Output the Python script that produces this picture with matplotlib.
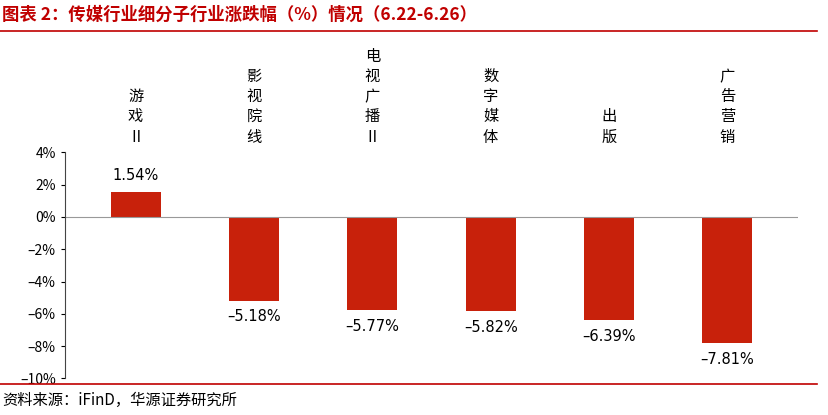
import matplotlib.pyplot as plt
from matplotlib.ticker import FuncFormatter

plt.rcParams['font.family'] = ['Noto Sans CJK SC', 'DejaVu Sans']

categories = ["游戏\nⅡ", "影视\n院线", "电视\n广播\nⅡ", "数字\n媒体", "出版", "广告\n营销"]
changes = [1.54, -5.18, -5.77, -5.82, -6.39, -7.81]
labels = ["1.54%", "–5.18%", "–5.77%", "–5.82%", "–6.39%", "–7.81%"]

RED = "#c00000"
BAR = "#c8210b"

fig = plt.figure(figsize=(8.29, 4.15), dpi=100)
ax = fig.add_axes([0.078, 0.088, 0.885, 0.545])

x = range(len(categories))
ax.bar(x, changes, width=0.42, color=BAR)
for xi, v, lab in zip(x, changes, labels):
    off = 1.0 if v > 0 else -1.0
    ax.text(xi, v + off, lab, ha="center", va="center", fontsize=10.5,
            family=["DejaVu Sans"])
    # vertical category label above plot
    chars = "\n".join(c for c in categories[xi].replace("\n", ""))
    ax.text(xi, 1.03, chars, transform=ax.get_xaxis_transform(), ha="center",
            va="bottom", fontsize=11, linespacing=1.25)

ax.set_ylim(-10, 4)
ax.set_yticks(range(-10, 5, 2))
ax.yaxis.set_major_formatter(FuncFormatter(lambda v, p: f"{int(v)}%".replace("-", "–")))
ax.set_xlim(-0.6, 5.6)
ax.set_xticks([])
ax.axhline(0, color="#999999", lw=0.8)
for s in ["top", "right", "bottom"]:
    ax.spines[s].set_visible(False)
ax.spines["left"].set_color("#444444")
ax.tick_params(axis="y", labelsize=10, length=3)

fig.text(0.003, 0.965, "图表 2：传媒行业细分子行业涨跌幅（%）情况（6.22-6.26）",
         color=RED, fontsize=12.5, fontweight="bold", va="center")
fig.add_artist(plt.Line2D([0, 0.985], [0.925, 0.925], color=RED, lw=1.2))
fig.add_artist(plt.Line2D([0, 0.985], [0.075, 0.075], color=RED, lw=1.2))
fig.text(0.003, 0.035, "资料来源：iFinD，华源证券研究所", fontsize=11, va="center")

fig.savefig("out.png")
